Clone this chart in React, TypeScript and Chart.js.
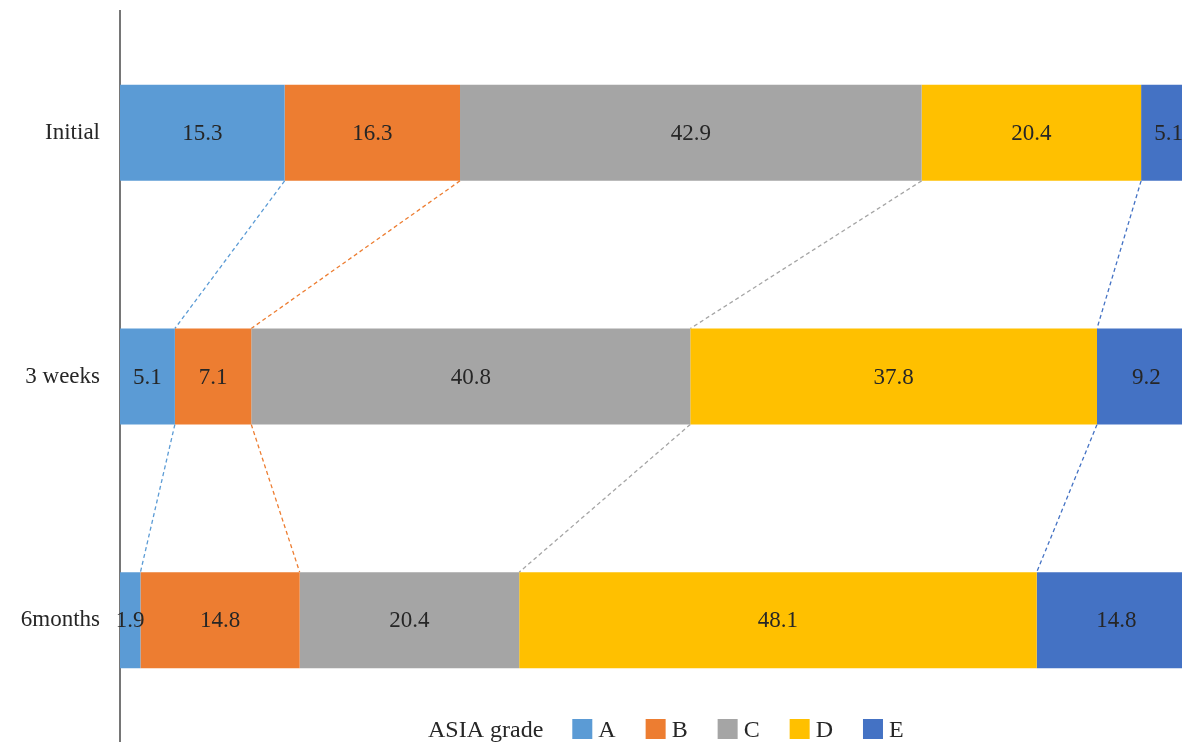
import React, { useEffect, useRef } from "react";
import { Chart, registerables } from "chart.js";

Chart.register(...registerables);

const categories = ["Initial", "3 weeks", "6months"];
const seriesNames = ["A", "B", "C", "D", "E"];
const gradeA = [15.3, 5.1, 1.9];
const gradeB = [16.3, 7.1, 14.8];
const gradeC = [42.9, 40.8, 20.4];
const gradeD = [20.4, 37.8, 48.1];
const gradeE = [5.1, 9.2, 14.8];
const colors = ["#5B9BD5", "#ED7D31", "#A5A5A5", "#FFC000", "#4472C4"];
const legendTitle = "ASIA grade";
// visible part of the percentage axis (the reference is cropped at the right edge)
const xMin = 0;
const xMax = 98.7;
// series lines: number of stacked series before the boundary, and the series colour used
const seriesLines = [
  { upTo: 1, colorIdx: 0 },
  { upTo: 2, colorIdx: 1 },
  { upTo: 3, colorIdx: 2 },
  { upTo: 4, colorIdx: 4 },
];

const FONT = "'Liberation Serif', 'Times New Roman', serif";
const TEXT = "#262626";

export default function App() {
  const ref = useRef<HTMLCanvasElement | null>(null);

  useEffect(() => {
    document.body.style.margin = "0";
    const values = [gradeA, gradeB, gradeC, gradeD, gradeE];

    const linesPlugin = {
      id: "seriesLines",
      beforeDatasetsDraw(chart: any) {
        const ctx = chart.ctx;
        const xs = chart.scales.x;
        const meta0 = chart.getDatasetMeta(0);
        ctx.save();
        ctx.lineWidth = 1.3;
        ctx.setLineDash([4, 3]);
        for (let i = 0; i < categories.length - 1; i++) {
          const a = meta0.data[i];
          const b = meta0.data[i + 1];
          const y1 = a.y + a.height / 2;
          const y2 = b.y - b.height / 2;
          for (const sl of seriesLines) {
            let c1 = 0;
            let c2 = 0;
            for (let s = 0; s < sl.upTo; s++) {
              c1 += values[s][i];
              c2 += values[s][i + 1];
            }
            ctx.strokeStyle = colors[sl.colorIdx];
            ctx.beginPath();
            ctx.moveTo(xs.getPixelForValue(c1), y1);
            ctx.lineTo(xs.getPixelForValue(c2), y2);
            ctx.stroke();
          }
        }
        ctx.restore();
      },
    };

    const labelsPlugin = {
      id: "segLabels",
      afterDatasetsDraw(chart: any) {
        const ctx = chart.ctx;
        ctx.save();
        ctx.font = `23px ${FONT}`;
        ctx.fillStyle = TEXT;
        ctx.textAlign = "center";
        ctx.textBaseline = "middle";
        chart.data.datasets.forEach((ds: any, di: number) => {
          const meta = chart.getDatasetMeta(di);
          meta.data.forEach((el: any, i: number) => {
            const cx = (el.x + el.base) / 2;
            ctx.fillText(String(ds.data[i]), cx, el.y + 1);
          });
        });
        ctx.restore();
      },
    };

    const legendPlugin = {
      id: "customLegend",
      afterDraw(chart: any) {
        const ctx = chart.ctx;
        ctx.save();
        ctx.font = `24px ${FONT}`;
        ctx.fillStyle = TEXT;
        ctx.textBaseline = "alphabetic";
        ctx.textAlign = "left";
        const baseline = 737;
        let x = 428;
        ctx.fillText(legendTitle, x, baseline);
        x += ctx.measureText(legendTitle).width + 29;
        seriesNames.forEach((name, i) => {
          ctx.fillStyle = colors[i];
          ctx.fillRect(x, 719, 20, 20);
          x += 26;
          ctx.fillStyle = TEXT;
          ctx.fillText(name, x, baseline);
          x += ctx.measureText(name).width + 30;
        });
        ctx.restore();
      },
    };

    const chart = new Chart(ref.current as HTMLCanvasElement, {
      type: "bar",
      data: {
        labels: categories,
        datasets: seriesNames.map((n, i) => ({
          label: n,
          data: values[i],
          backgroundColor: colors[i],
          borderWidth: 0,
          categoryPercentage: 1,
          barPercentage: 0.394,
        })),
      },
      options: {
        indexAxis: "y",
        responsive: false,
        animation: false,
        devicePixelRatio: 1,
        layout: { padding: { top: 11, right: 0, bottom: 0, left: 0 } },
        plugins: { legend: { display: false }, tooltip: { enabled: false } },
        scales: {
          x: { stacked: true, min: xMin, max: xMax, display: false },
          y: {
            stacked: true,
            grid: { display: false, drawTicks: false },
            border: { display: true, color: "#767676", width: 2 },
            ticks: {
              color: TEXT,
              font: { family: FONT, size: 23 },
              padding: 20,
            },
            afterFit(scale: any) {
              scale.width = 120;
              scale.paddingTop = 0;
              scale.paddingBottom = 0;
            },
          },
        },
      } as any,
      plugins: [linesPlugin, labelsPlugin, legendPlugin],
    });
    return () => chart.destroy();
  }, []);

  return (
    <div style={{ width: 1182, height: 742, background: "#fff" }}>
      <canvas ref={ref} width={1182} height={742} style={{ display: "block" }} />
    </div>
  );
}
